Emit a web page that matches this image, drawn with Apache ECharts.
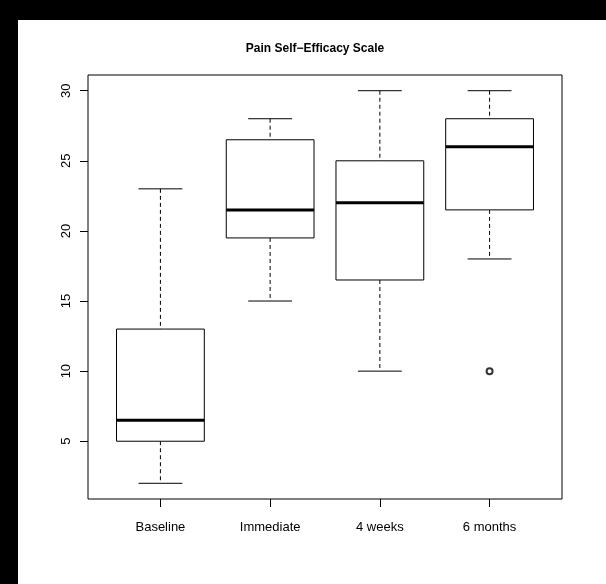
<!DOCTYPE html>
<html>
<head>
<meta charset="utf-8">
<script src="https://cdn.jsdelivr.net/npm/echarts@6/dist/echarts.min.js"></script>
<style>
html,body{margin:0;padding:0;background:#fff;}
#chart{width:606px;height:584px;}
</style>
</head>
<body>
<div id="chart"></div>
<script>
var categories = ['Baseline', 'Immediate', '4 weeks', '6 months'];
var whiskerLow = [2, 15, 10, 18];
var q1 = [5, 19.5, 16.5, 21.5];
var median = [6.5, 21.5, 22, 26];
var q3 = [13, 26.5, 25, 28];
var whiskerHigh = [23, 28, 30, 30];
var outlierGroup = [4];
var outlierValue = [10];
var yTicks = [5, 10, 15, 20, 25, 30];
var xTicks = [1, 2, 3, 4];

var boxData = categories.map(function (c, i) {
  return [i + 1, whiskerLow[i], q1[i], median[i], q3[i], whiskerHigh[i]];
});
var outlierData = outlierGroup.map(function (g, i) { return [g, outlierValue[i]]; });

var chart = echarts.init(document.getElementById('chart'), null, {renderer: 'canvas'});

function renderBox(params, api) {
  var x = api.value(0);
  var lo = api.value(1), b1 = api.value(2), md = api.value(3), b3 = api.value(4), hi = api.value(5);
  var pL = api.coord([x - 0.4, b3]);
  var pR = api.coord([x + 0.4, b1]);
  var cL = api.coord([x - 0.2, hi]);
  var cR = api.coord([x + 0.2, hi]);
  var lowL = api.coord([x - 0.2, lo]);
  var lowR = api.coord([x + 0.2, lo]);
  var mid = api.coord([x, md]);
  var topB = api.coord([x, b3]);
  var botB = api.coord([x, b1]);
  var stroke = '#000';
  return {
    type: 'group',
    children: [
      {type: 'line', shape: {x1: topB[0], y1: cL[1], x2: topB[0], y2: topB[1]},
        style: {stroke: stroke, lineWidth: 1, lineDash: [4, 3]}},
      {type: 'line', shape: {x1: botB[0], y1: botB[1], x2: botB[0], y2: lowL[1]},
        style: {stroke: stroke, lineWidth: 1, lineDash: [4, 3]}},
      {type: 'line', shape: {x1: cL[0], y1: cL[1], x2: cR[0], y2: cR[1]},
        style: {stroke: stroke, lineWidth: 1}},
      {type: 'line', shape: {x1: lowL[0], y1: lowL[1], x2: lowR[0], y2: lowR[1]},
        style: {stroke: stroke, lineWidth: 1}},
      {type: 'rect', shape: {x: pL[0], y: pL[1], width: pR[0] - pL[0], height: pR[1] - pL[1]},
        style: {fill: '#fff', stroke: stroke, lineWidth: 1}},
      {type: 'line', shape: {x1: pL[0], y1: mid[1], x2: pR[0], y2: mid[1]},
        style: {stroke: stroke, lineWidth: 3}}
    ]
  };
}

var option = {
  backgroundColor: '#fff',
  animation: false,
  title: {
    text: 'Pain Self\u2212Efficacy Scale',
    left: 310,
    textAlign: 'center',
    top: 38,
    textStyle: {fontFamily: 'Liberation Sans', fontWeight: 'bold', fontSize: 12, color: '#000'}
  },
  grid: {
    left: 88, right: 44, top: 75, bottom: 85,
    show: true, borderColor: '#000', borderWidth: 1, backgroundColor: 'transparent'
  },
  xAxis: {
    type: 'value', min: 0.34, max: 4.66,
    splitLine: {show: false},
    axisLine: {show: false},
    axisTick: {show: true, inside: false, length: 8, lineStyle: {color: '#000'}, customValues: xTicks},
    axisLabel: {
      show: true, margin: 22, color: '#000', fontFamily: 'Liberation Sans', fontSize: 13,
      customValues: xTicks,
      formatter: function (v) { return categories[Math.round(v) - 1] || ''; }
    }
  },
  yAxis: {
    type: 'value', min: 0.88, max: 31.12,
    splitLine: {show: false},
    axisLine: {show: false},
    axisTick: {show: true, inside: false, length: 8, lineStyle: {color: '#000'}, customValues: yTicks},
    axisLabel: {
      show: true, margin: 15, rotate: 90, color: '#000', fontFamily: 'Liberation Sans', fontSize: 13,
      customValues: yTicks
    }
  },
  graphic: [
    {type: 'rect', left: 0, top: 0, shape: {width: 18, height: 584}, style: {fill: '#000'}, z: 100},
    {type: 'rect', left: 0, top: 0, shape: {width: 606, height: 20}, style: {fill: '#000'}, z: 100}
  ],
  series: [
    {
      type: 'custom',
      renderItem: renderBox,
      data: boxData,
      encode: {x: 0, y: [1, 2, 3, 4, 5]},
      clip: false
    },
    {
      type: 'scatter',
      data: outlierData,
      symbol: 'emptyCircle',
      symbolSize: 6,
      itemStyle: {color: '#000', borderColor: '#000', borderWidth: 1},
      z: 5
    }
  ]
};
chart.setOption(option);
</script>
</body>
</html>
